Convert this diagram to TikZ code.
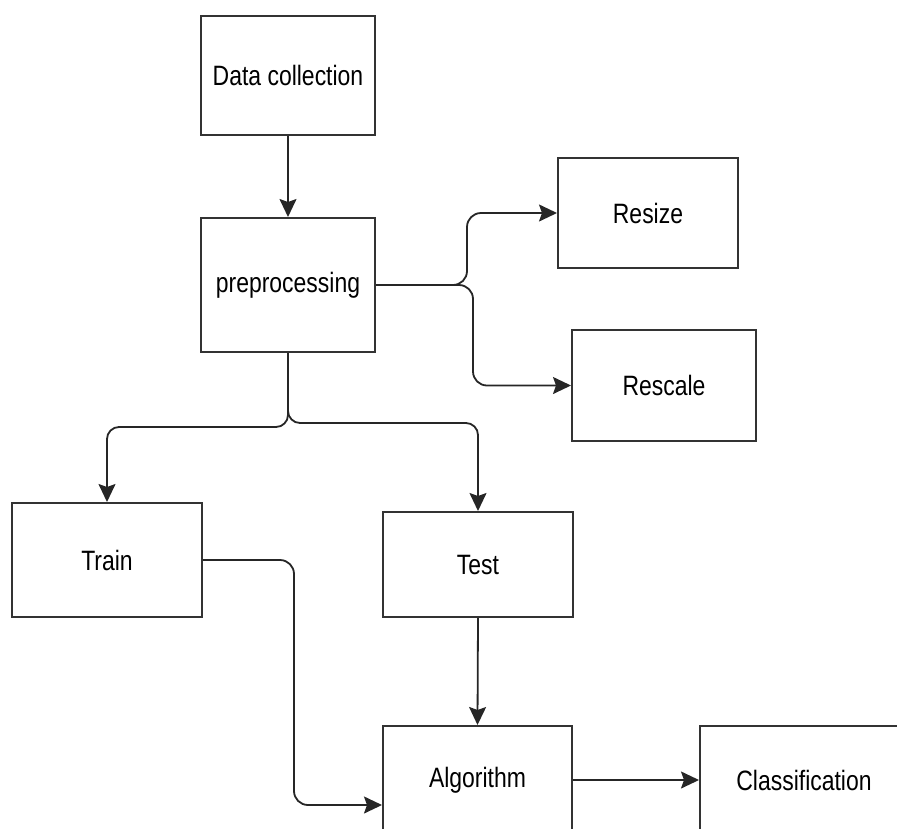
\documentclass[tikz,border=0pt]{standalone}
\usepackage{fontspec}
\setmainfont[FakeStretch=0.82]{Liberation Sans}
\usetikzlibrary{arrows.meta}
\begin{document}
\begin{tikzpicture}[x=1pt,y=-1pt,
  procbox/.style={draw=black!80,line width=2pt,fill=white,inner sep=0pt,
    font=\fontsize{28}{32}\selectfont},
  flow/.style={draw=black!85,line width=1.8pt,
    -{Stealth[length=18pt,width=17pt,inset=3pt]}}]
\useasboundingbox (0,0) rectangle (897,828);
% Drawing boxes
\node[procbox,minimum width=174pt,minimum height=119pt] (dcol) at (288,75.5) {Data collection};
\node[procbox,minimum width=174pt,minimum height=134pt] (prep) at (288,285) {preprocessing};
\node[procbox,minimum width=180pt,minimum height=110pt] (resize) at (648,213) {Resize};
\node[procbox,minimum width=184pt,minimum height=111pt] (rescale) at (664,385.5) {Rescale};
\node[procbox,minimum width=190pt,minimum height=114pt] (train) at (107,560) {Train};
\node[procbox,minimum width=190pt,minimum height=105pt] (test) at (478,564.5) {Test};
\node[procbox,minimum width=189pt,minimum height=108pt] (algo) at (477.5,780) {Algorithm};
\node[procbox,minimum width=208pt,minimum height=108pt] (classif) at (804,780) {Classification};
% Done with boxes; drawing arrows
\draw[flow] (dcol.south) -- (prep.north);
% preprocessing splits to the right
\draw[flow,rounded corners=14pt] (prep.east) -- (467,285) |- (resize.west);
\draw[flow,rounded corners=14pt] (prep.east) -- (473,285) |- (rescale.west);
% preprocessing splits downwards
\draw[flow,rounded corners=12pt] (prep.south) |- (107,427) -- (train.north);
\draw[flow,rounded corners=12pt] (prep.south) |- (478,423) -- (test.north);
% into and out of the algorithm
\draw[flow] (test.south) -- (algo.north);
\draw[flow,rounded corners=14pt] (train.east) -- (294,560) |- ([yshift=-25pt]algo.west);
\draw[flow] (algo.east) -- (classif.west);
% Done with arrows
\end{tikzpicture}
\end{document}
